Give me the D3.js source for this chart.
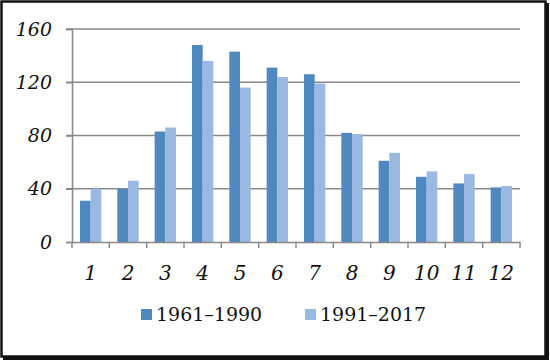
<!DOCTYPE html>
<html>
<head>
<meta charset="utf-8">
<script src="https://cdn.jsdelivr.net/npm/d3@7"></script>
<style>
  body { margin: 0; background: #fff; }
  svg { display: block; }
</style>
</head>
<body>
<div id="chart"></div>
<script>
const months = ["1", "2", "3", "4", "5", "6", "7", "8", "9", "10", "11", "12"];
const series = ["1961–1990", "1991–2017"];
const values1961 = [31, 40, 83, 148, 143, 131, 126, 82, 61, 49, 44, 41];
const values1991 = [40, 46, 86, 136, 116, 124, 119, 81, 67, 53, 51, 42];
const yTicks = [0, 40, 80, 120, 160];

const width = 550, height = 362;
const margin = { top: 29, right: 30, bottom: 120, left: 72 };
const colors = ["#4f87bf", "#99b9e0"];
const fontFamily = "'DejaVu Serif', 'Liberation Serif', serif";

const svg = d3.select("#chart").append("svg")
  .attr("width", width)
  .attr("height", height);

// frame with shadow
svg.append("rect").attr("x", 3).attr("y", 3).attr("width", 546).attr("height", 357)
  .attr("fill", "#111");
svg.append("rect").attr("x", 1.5).attr("y", 1.5).attr("width", 544).attr("height", 355)
  .attr("fill", "#fff").attr("stroke", "#111").attr("stroke-width", 2.5);

const x = d3.scaleBand().domain(months)
  .range([margin.left, width - margin.right]);
const x1 = d3.scaleBand().domain(series)
  .range([0, x.bandwidth()]).paddingInner(0).paddingOuter(0.75);
const y = d3.scaleLinear().domain([0, 160])
  .range([height - margin.bottom, margin.top]);

// gridlines
svg.append("g").selectAll("line").data(yTicks.slice(1)).join("line")
  .attr("x1", margin.left - 6).attr("x2", width - margin.right)
  .attr("y1", d => y(d)).attr("y2", d => y(d))
  .attr("stroke", "#888").attr("stroke-width", 1.5);

// y axis
const yAxis = svg.append("g")
  .attr("transform", `translate(${margin.left},0)`)
  .call(d3.axisLeft(y).tickValues(yTicks).tickSize(6).tickPadding(14));
yAxis.select(".domain").attr("stroke", "#888").attr("stroke-width", 1.5);
yAxis.selectAll(".tick line").attr("stroke", "#888").attr("stroke-width", 1.5);
yAxis.selectAll("text")
  .attr("fill", "#111")
  .style("font-family", fontFamily)
  .style("font-style", "italic")
  .style("font-size", "19px");

// bars
const groups = svg.append("g").selectAll("g").data(months).join("g")
  .attr("transform", d => `translate(${x(d)},0)`);
groups.selectAll("rect")
  .data((d, i) => [
    { s: series[0], v: values1961[i] },
    { s: series[1], v: values1991[i] }
  ])
  .join("rect")
  .attr("x", d => x1(d.s))
  .attr("y", d => y(d.v))
  .attr("width", x1.bandwidth())
  .attr("height", d => y(0) - y(d.v))
  .attr("fill", (d, i) => colors[i]);

// x axis
const xAxis = svg.append("g")
  .attr("transform", `translate(0,${y(0)})`)
  .call(d3.axisBottom(x).tickSize(0).tickPadding(24));
xAxis.select(".domain").attr("stroke", "#888").attr("stroke-width", 1.5);
xAxis.selectAll("text")
  .attr("fill", "#111")
  .style("font-family", fontFamily)
  .style("font-style", "italic")
  .style("font-size", "20px");
svg.append("g").selectAll("line").data(d3.range(months.length + 1)).join("line")
  .attr("x1", i => margin.left + i * x.step())
  .attr("x2", i => margin.left + i * x.step())
  .attr("y1", y(0)).attr("y2", y(0) + 6)
  .attr("stroke", "#888").attr("stroke-width", 1.5);

// legend
const legendX = [141, 305];
const legend = svg.append("g").selectAll("g").data(series).join("g")
  .attr("transform", (d, i) => `translate(${legendX[i]},309)`);
legend.append("rect").attr("width", 11).attr("height", 11)
  .attr("fill", (d, i) => colors[i]);
legend.append("text")
  .attr("x", 15).attr("y", 12)
  .text(d => d)
  .attr("fill", "#111")
  .style("font-family", fontFamily)
  .style("font-size", "19px");
</script>
</body>
</html>
